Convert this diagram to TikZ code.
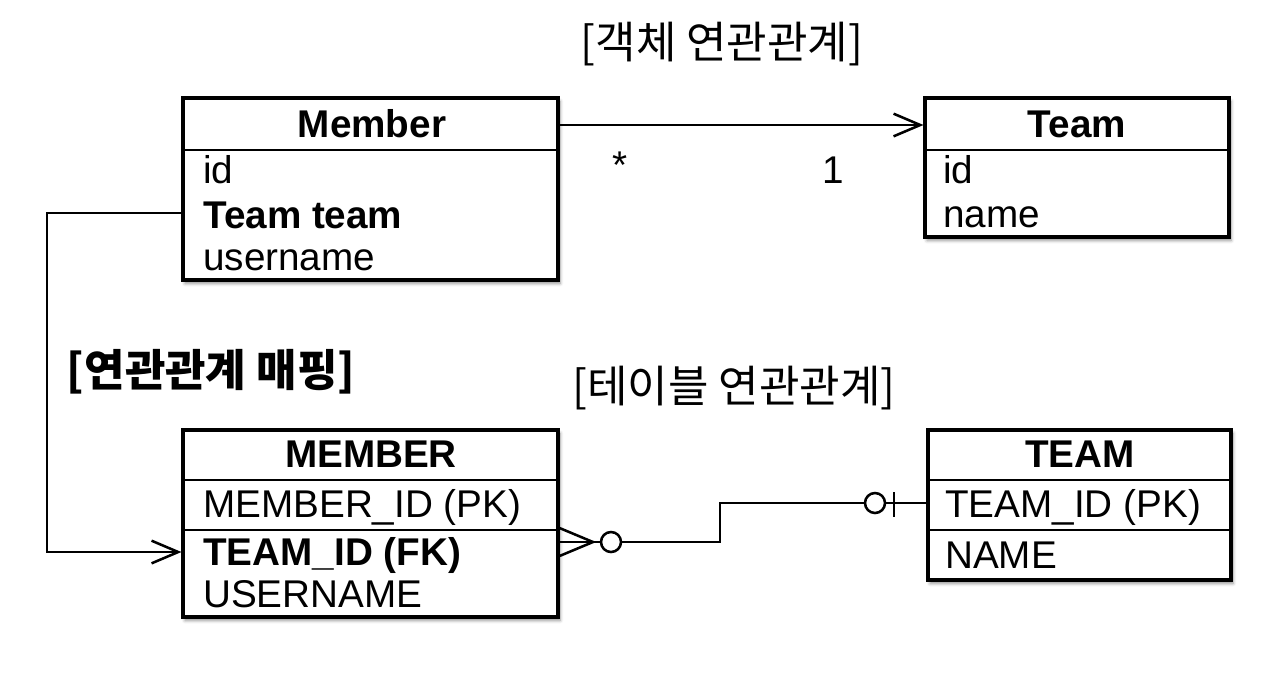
\documentclass[tikz,border=0pt]{standalone}
\usepackage{fontspec}
\setmainfont{Liberation Sans}
\newfontfamily\kr{Noto Sans CJK KR}
\usetikzlibrary{arrows.meta,fit,shadows.blur,calc}
\begin{document}
\begin{tikzpicture}[x=0.75pt,y=-0.75pt,
  box/.style={draw=black, line width=2.3pt, fill=white, inner sep=0pt,
    blur shadow={shadow xshift=1.5pt, shadow yshift=-2.5pt, shadow blur radius=2.5pt, shadow opacity=45}},
  divline/.style={line width=1.9pt},
  txt/.style={font=\fontsize{29}{34}\selectfont, inner sep=0pt},
  bold/.style={font=\fontsize{29}{34}\selectfont\bfseries, inner sep=0pt},
  krtxt/.style={font=\kr\fontsize{33}{40}\selectfont, inner sep=0pt},
  krbold/.style={font=\kr\bfseries\fontsize{33}{40}\selectfont, inner sep=0pt},
  conn/.style={line width=1.9pt},
  open/.style={-{Straight Barb[length=20pt,width=17pt,line width=1.9pt]}},
  ring/.style={circle, draw=black, line width=1.9pt, fill=white, minimum size=15pt, inner sep=0pt},
]
\useasboundingbox (0,0) rectangle (1280,687);

% ---- titles
\node[krtxt] (t1) at (722,44) {[객체 연관관계]};
\node[krtxt] (t2) at (734,388) {[테이블 연관관계]};
\node[krbold] (t3) at (211,372) {[연관관계 매핑]};

% ---- Member (object)
\node[box, fit={(183,98) (558,280)}] (member) {};
\draw[divline] (member.west |- 0,150) -- (member.east |- 0,150);
\node[bold, anchor=base] (mh) at (372,137) {Member};
\node[txt, anchor=base west] (m1) at (203,183) {id};
\node[bold, anchor=base west] (m2) at (203,228) {Team team};
\node[txt, anchor=base west] (m3) at (203,270) {username};

% ---- Team (object)
\node[box, fit={(925,98) (1229,237)}] (team) {};
\draw[divline] (team.west |- 0,150) -- (team.east |- 0,150);
\node[bold, anchor=base] (th) at (1077,137) {Team};
\node[txt, anchor=base west] (t1a) at (943,183) {id};
\node[txt, anchor=base west] (t2a) at (943,227) {name};

% ---- MEMBER (table)
\node[box, fit={(183,430) (558,617)}] (MEM) {};
\draw[divline] (MEM.west |- 0,480) -- (MEM.east |- 0,480);
\draw[divline] (MEM.west |- 0,530) -- (MEM.east |- 0,530);
\node[bold, anchor=base] (Mh) at (371,467) {MEMBER};
\node[txt, anchor=base west] (M1) at (203,517) {MEMBER\_ID (PK)};
\node[bold, anchor=base west] (M2) at (203,565) {TEAM\_ID (FK)};
\node[txt, anchor=base west] (M3) at (203,607) {USERNAME};

% ---- TEAM (table)
\node[box, fit={(928,430) (1231,580)}] (TEAM) {};
\draw[divline] (TEAM.west |- 0,480) -- (TEAM.east |- 0,480);
\draw[divline] (TEAM.west |- 0,530) -- (TEAM.east |- 0,530);
\node[bold, anchor=base] (Th) at (1080,467) {TEAM};
\node[txt, anchor=base west] (T1) at (945,517) {TEAM\_ID (PK)};
\node[txt, anchor=base west] (T2) at (945,568) {NAME};

% ---- object association
\draw[conn, open] (member.east |- 0,125) -- (team.west |- 0,125);
\node[txt] (star) at (620,165) {*};
\node[txt] (one) at (833,170) {1};

% ---- mapping connector
\coordinate (lk) at (47,213);
\draw[conn, open] (member.west |- lk) -- (lk) |- (MEM.west |- 0,552);

% ---- table relation (crow's foot)
\coordinate (cf) at (593,542);
\node[ring] (c1) at (611,542) {};
\node[ring] (c2) at (875,503) {};
\coordinate (bend) at (720,542);
\draw[conn] (MEM.east |- 0,528) -- (cf) -- (MEM.east |- 0,556);
\draw[conn] (MEM.east |- cf) -- (c1.west);
\draw[conn] (c1.east) -- (bend) |- (c2.west);
\draw[conn] (c2.east) -- (TEAM.west |- c2);
\draw[conn] (894,492) -- (894,517);
\end{tikzpicture}
\end{document}
